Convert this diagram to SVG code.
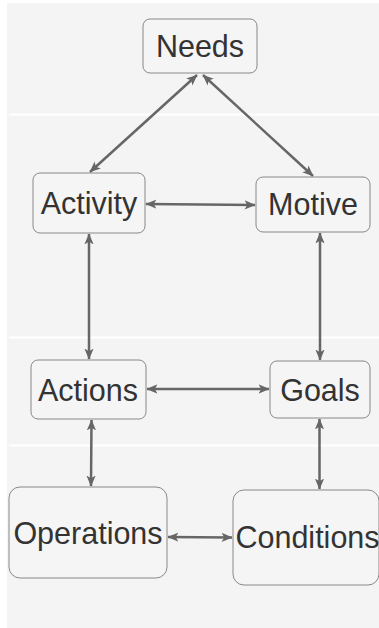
<svg xmlns="http://www.w3.org/2000/svg" width="379" height="628" viewBox="0 0 379 628">
  <style>
    .node rect { fill: #f5f5f5; stroke: #888888; stroke-width: 1; }
    .node text { font-family: "Liberation Sans", Arial, sans-serif; font-size: 30.5px; fill: #333333; text-anchor: middle; dominant-baseline: central; }
    .edge { stroke: #666666; stroke-width: 2.5; fill: none; marker-start: url(#arrow); marker-end: url(#arrow); }
    .band { fill: #ffffff; }
  </style>
  <defs>
    <marker id="arrow" viewBox="0 0 10 10" refX="9.5" refY="5" markerWidth="11" markerHeight="11" markerUnits="userSpaceOnUse" orient="auto-start-reverse">
      <path d="M0,0.8 L10,5 L0,9.2 L2.5,5 Z" fill="#666666"/>
    </marker>
  </defs>

  <!-- page background -->
  <rect x="0" y="0" width="379" height="628" fill="#ffffff"/>
  <rect x="7" y="3" width="372" height="625" fill="#f4f4f4"/>
  <rect class="band" x="9" y="113.5" width="370" height="2"/>
  <rect class="band" x="9" y="336.5" width="370" height="2"/>
  <rect class="band" x="9" y="444.5" width="370" height="2"/>

  <!-- connectors -->
  <g id="connectors">
    <line class="edge" x1="197" y1="75" x2="90" y2="172"/>
    <line class="edge" x1="203" y1="75" x2="313" y2="176"/>
    <line class="edge" x1="146" y1="204" x2="255" y2="205"/>
    <line class="edge" x1="89" y1="234" x2="89" y2="359"/>
    <line class="edge" x1="320" y1="233" x2="320" y2="360"/>
    <line class="edge" x1="147" y1="389" x2="269" y2="389"/>
    <line class="edge" x1="91.5" y1="420" x2="91" y2="486"/>
    <line class="edge" x1="319.5" y1="419" x2="319.5" y2="489"/>
    <line class="edge" x1="168" y1="537" x2="232" y2="537.5"/>
  </g>

  <!-- nodes -->
  <g id="needs" class="node">
    <rect x="143" y="19" width="114" height="54" rx="7"/>
    <text x="200" y="46">Needs</text>
  </g>
  <g id="activity" class="node">
    <rect x="33" y="173" width="112" height="60" rx="7"/>
    <text x="89" y="203">Activity</text>
  </g>
  <g id="motive" class="node">
    <rect x="256" y="177" width="114" height="55" rx="7"/>
    <text x="313" y="204">Motive</text>
  </g>
  <g id="actions" class="node">
    <rect x="31" y="360" width="115" height="59" rx="7"/>
    <text x="88" y="390">Actions</text>
  </g>
  <g id="goals" class="node">
    <rect x="270" y="361" width="100" height="57" rx="7"/>
    <text x="320" y="390">Goals</text>
  </g>
  <g id="operations" class="node">
    <rect x="9" y="487" width="158" height="91" rx="11"/>
    <text x="88" y="532.5">Operations</text>
  </g>
  <g id="conditions" class="node">
    <rect x="233" y="490" width="146" height="95" rx="11"/>
    <text x="307.5" y="536.5">Conditions</text>
  </g>
</svg>
